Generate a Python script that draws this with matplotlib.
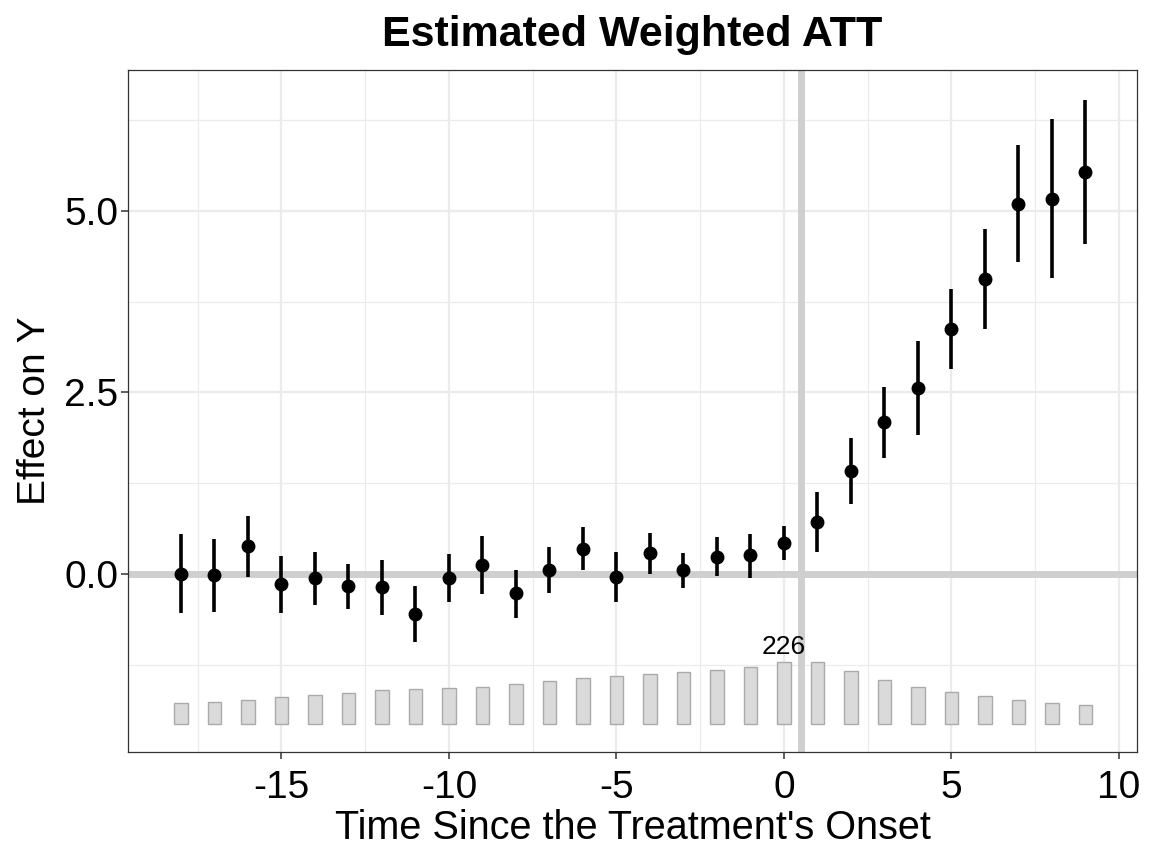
import numpy as np
import matplotlib.pyplot as plt

plt.rcParams['font.family'] = ['Liberation Sans', 'DejaVu Sans']

# data
period = list(range(-18, 10))
att = [0.00, -0.01, 0.39, -0.14, -0.06, -0.17, -0.18, -0.55, -0.06, 0.13,
       -0.26, 0.06, 0.35, -0.04, 0.29, 0.05, 0.24, 0.26, 0.43, 0.72,
       1.42, 2.09, 2.56, 3.37, 4.06, 5.10, 5.17, 5.54]
ci_low = [-0.54, -0.52, -0.04, -0.54, -0.43, -0.48, -0.56, -0.94, -0.39, -0.27,
          -0.60, -0.26, 0.06, -0.39, 0.00, -0.19, -0.03, -0.05, 0.19, 0.31,
          0.97, 1.60, 1.91, 2.82, 3.37, 4.29, 4.07, 4.55]
ci_high = [0.55, 0.48, 0.80, 0.25, 0.30, 0.14, 0.19, -0.17, 0.28, 0.53,
           0.06, 0.37, 0.65, 0.30, 0.57, 0.29, 0.51, 0.55, 0.66, 1.13,
           1.87, 2.57, 3.21, 3.92, 4.75, 5.91, 6.27, 6.53]
counts = [77, 80, 89, 97, 106, 113, 123, 127, 131, 134, 147, 156, 166, 173,
          181, 187, 196, 208, 226, 226, 191, 161, 134, 115, 102, 89, 78, 70]
xtick_labels = ['-15', '-10', '-5', '0', '5', '10']
ytick_labels = ['0.0', '2.5', '5.0']

period = np.array(period)
att = np.array(att)
ci_low = np.array(ci_low)
ci_high = np.array(ci_high)
counts = np.array(counts)

fig = plt.figure(figsize=(11.52, 8.64), dpi=100)
ax = fig.add_axes([0.1111, 0.1296, 0.8759, 0.7894])

# grid like ggplot theme_bw
ax.set_xticks([-15, -10, -5, 0, 5, 10])
ax.set_xticklabels(xtick_labels)
ax.set_xticks(np.arange(-17.5, 10, 5), minor=True)
ax.set_yticks([0, 2.5, 5.0])
ax.set_yticklabels(ytick_labels)
ax.set_yticks([-1.25, 1.25, 3.75, 6.25], minor=True)
ax.grid(which='major', color='#ebebeb', lw=1.6, zorder=0)
ax.grid(which='minor', color='#ebebeb', lw=0.9, zorder=0)
ax.set_axisbelow(True)

# reference lines
ax.axhline(0, color='#cfcfcf', lw=5, zorder=1)
ax.axvline(0.5, color='#cfcfcf', lw=5, zorder=1)

# count bars at the bottom
bar_base = -2.07
bar_max = 0.866
heights = counts / counts.max() * bar_max
ax.bar(period, heights, bottom=bar_base, width=0.4, color='#dadada',
       edgecolor='#aaaaaa', lw=1, zorder=2)
imax = int(np.argmax(counts))
ax.text(period[imax], bar_base + heights[imax] + 0.03, str(counts[imax]),
        ha='center', va='bottom', fontsize=19)

# estimates with CI
ax.vlines(period, ci_low, ci_high, color='black', lw=2.6, zorder=3)
ax.plot(period, att, 'o', color='black', ms=9, zorder=4)

ax.set_xlim(-19.58, 10.54)
ax.set_ylim(-2.45, 6.94)

for s in ax.spines.values():
    s.set_color('#333333')
    s.set_linewidth(0.9)
ax.tick_params(which='major', length=5, width=1.1, color='#333333',
               labelsize=28, labelcolor='black', pad=2)
ax.tick_params(axis='x', which='major', pad=8)
ax.tick_params(which='minor', length=0)

ax.set_xlabel("Time Since the Treatment's Onset", fontsize=28.5, labelpad=2)
ax.set_ylabel('Effect on Y', fontsize=28, labelpad=8)
ax.set_title('Estimated Weighted ATT', fontsize=31, fontweight='bold', pad=17)

fig.savefig('out.png', dpi=100)
